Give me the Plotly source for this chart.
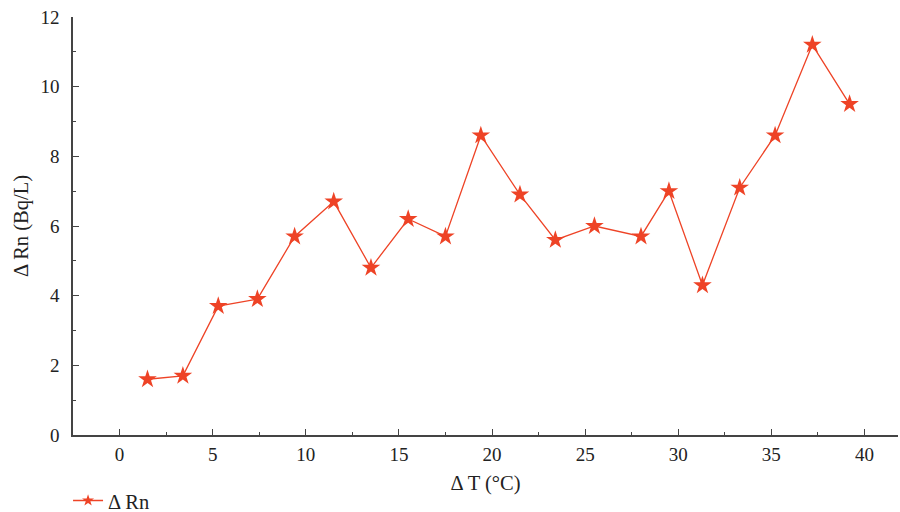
import plotly.graph_objects as go

delta_t = [1.5, 3.4, 5.3, 7.4, 9.4, 11.5, 13.5, 15.5, 17.5, 19.4,
           21.5, 23.4, 25.5, 28.0, 29.5, 31.3, 33.3, 35.2, 37.2, 39.2]
delta_rn = [1.6, 1.7, 3.7, 3.9, 5.7, 6.7, 4.8, 6.2, 5.7, 8.6,
            6.9, 5.6, 6.0, 5.7, 7.0, 4.3, 7.1, 8.6, 11.2, 9.5]
x_ticks = [0, 5, 10, 15, 20, 25, 30, 35, 40]
y_ticks = [0, 2, 4, 6, 8, 10, 12]
series_name = "Δ Rn"

color = "#ee4326"
font = "'Liberation Serif', 'Times New Roman', Times, serif"

fig = go.Figure()
fig.add_trace(go.Scatter(
    x=delta_t, y=delta_rn, mode="lines+markers", name=series_name, showlegend=False,
    line=dict(color=color, width=1.3),
    marker=dict(symbol="star", size=14, color=color, line=dict(width=0)),
))
# legend entry (smaller marker as in the reference legend)
fig.add_trace(go.Scatter(
    x=[None], y=[None], mode="lines+markers", name=series_name, showlegend=True,
    line=dict(color=color, width=1.3),
    marker=dict(symbol="star", size=9, color=color, line=dict(width=0)),
))

axis_common = dict(
    showgrid=False, zeroline=False, showline=True, linecolor="#444", linewidth=1.5,
    ticks="inside", ticklen=6, tickwidth=1.3, tickcolor="#444",
    tickfont=dict(family=font, size=19, color="#222"),
)
fig.update_xaxes(
    range=[-2.5, 41.8], tickvals=x_ticks,
    minor=dict(ticks="inside", ticklen=3, tickwidth=1.2, tickcolor="#444", dtick=2.5, tick0=0),
    title=dict(text="Δ T (°C)", font=dict(family=font, size=20.5, color="#222"), standoff=12),
    ticklabelstandoff=1,
    **axis_common,
)
fig.update_yaxes(
    range=[0, 12], tickvals=y_ticks,
    minor=dict(ticks="inside", ticklen=3, tickwidth=1.2, tickcolor="#444", dtick=1, tick0=0),
    title=dict(text="Δ Rn (Bq/L)", font=dict(family=font, size=20.5, color="#222"), standoff=6),
    ticklabelstandoff=8,
    **axis_common,
)
fig.update_layout(
    width=900, height=512,
    margin=dict(l=73, r=2, t=17, b=77, autoexpand=False),
    plot_bgcolor="white", paper_bgcolor="white",
    showlegend=True,
    legend=dict(orientation="h", x=-0.006, xanchor="left", y=-0.205, yanchor="bottom",
                font=dict(family=font, size=20.5, color="#222"), bgcolor="rgba(0,0,0,0)"),
    font=dict(family=font),
)
fig.write_html("out.html")
